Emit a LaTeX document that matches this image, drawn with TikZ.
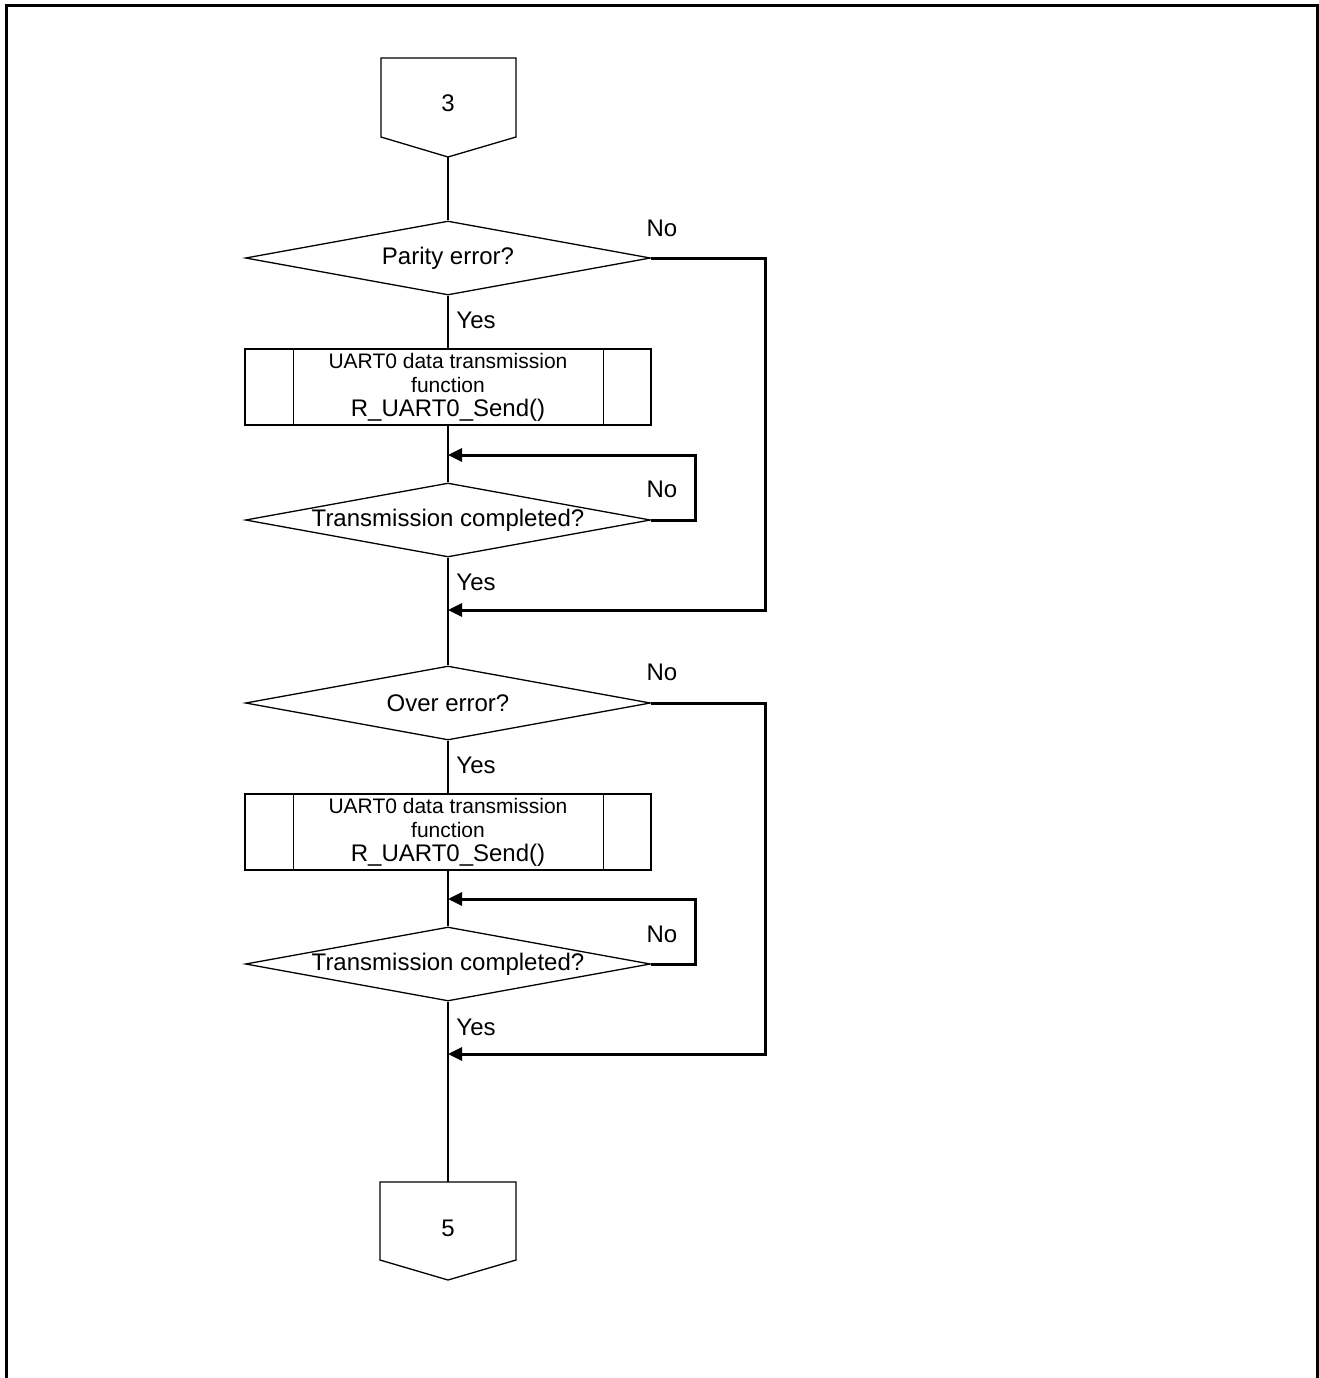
\documentclass[tikz,border=0pt]{standalone}
\usepackage{fontspec}
\setmainfont{Liberation Sans}
\usetikzlibrary{shapes.geometric,arrows.meta,calc}
\begin{document}
\begin{tikzpicture}[x=0.5pt,y=-0.5pt,
 flowline/.style={line width=0.65pt},
 loopline/.style={line width=1.5pt,-{Triangle[length=7pt,width=6.5pt]}},
 decision/.style={diamond,draw,line width=0.65pt,minimum width=202.5pt,minimum height=37pt,inner sep=0pt,aspect=5.47,font=\fontsize{12}{14}\selectfont},
 proc/.style={rectangle,draw,line width=0.65pt,minimum width=203pt,minimum height=38pt,inner sep=0pt,align=center},
 lbl/.style={font=\fontsize{12}{14}\selectfont,inner sep=0pt},
 conntext/.style={font=\fontsize{12}{14}\selectfont,inner sep=0pt}]
\useasboundingbox (0,0) rectangle (1319,1378);
% frame
\draw[line width=1.5pt] (6,1378) -- (6,5.5) -- (1317,5.5) -- (1317,1378);

% connector 3
\node[conntext] (c3) at (448,103) {3};
\coordinate (c3tip) at (448,157);
\draw[flowline] (381,58) -- (516,58) -- (516,137) -- (c3tip) -- (381,137) -- cycle;

% decisions and processes
\node[decision] (d1) at (448,258) {Parity error?};
\node[proc] (p1) at (448,387) {\fontsize{10.5}{11.75}\selectfont UART0 data transmission\\ \fontsize{10.5}{11.75}\selectfont function\\ \fontsize{12}{11.75}\selectfont R\_UART0\_Send()};
\draw[flowline] ($(p1.north west)+(49,0)$) -- ($(p1.south west)+(49,0)$);
\draw[flowline] ($(p1.north east)+(-48,0)$) -- ($(p1.south east)+(-48,0)$);
\node[decision] (d2) at (448,520) {Transmission completed?};

\node[decision] (d3) at (448,703) {Over error?};
\node[proc] (p2) at (448,832) {\fontsize{10.5}{11.75}\selectfont UART0 data transmission\\ \fontsize{10.5}{11.75}\selectfont function\\ \fontsize{12}{11.75}\selectfont R\_UART0\_Send()};
\draw[flowline] ($(p2.north west)+(49,0)$) -- ($(p2.south west)+(49,0)$);
\draw[flowline] ($(p2.north east)+(-48,0)$) -- ($(p2.south east)+(-48,0)$);
\node[decision] (d4) at (448,964) {Transmission completed?};

% connector 5
\node[conntext] (c5) at (448,1228) {5};
\coordinate (c5top) at (448,1182);
\draw[flowline] (c5top) -- (516,1182) -- (516,1260) -- (448,1280) -- (380,1260) -- (380,1182) -- cycle;

% junction points
\coordinate (j1) at (448,455);
\coordinate (m1) at (448,610);
\coordinate (j2) at (448,899);
\coordinate (m2) at (448,1054);

% main flow
\draw[flowline] (c3tip) -- (d1.north);
\draw[flowline] (d1.south) -- (p1.north);
\draw[flowline] (p1.south) -- (d2.north);
\draw[flowline] (d2.south) -- (d3.north);
\draw[flowline] (d3.south) -- (p2.north);
\draw[flowline] (p2.south) -- (d4.north);
\draw[flowline] (d4.south) -- (c5top);

% loops and bypasses
\draw[loopline] (d2.east) -- (695,520) |- (j1);
\draw[loopline] (d1.east) -- (765,258) |- (m1);
\draw[loopline] (d4.east) -- (695,964) |- (j2);
\draw[loopline] (d3.east) -- (765,703) |- (m2);

% labels
\node[lbl] (n1) at (662,228) {No};
\node[lbl] (y1) at (476,320) {Yes};
\node[lbl] (n2) at (662,489) {No};
\node[lbl] (y2) at (476,582) {Yes};
\node[lbl] (n3) at (662,672) {No};
\node[lbl] (y3) at (476,765) {Yes};
\node[lbl] (n4) at (662,934) {No};
\node[lbl] (y4) at (476,1027) {Yes};
\end{tikzpicture}
\end{document}
